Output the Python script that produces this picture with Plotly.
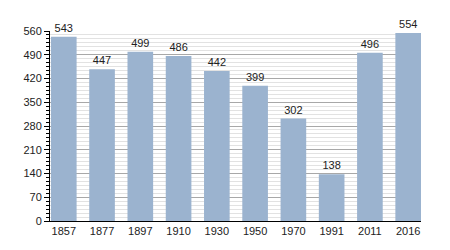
import plotly.graph_objects as go

years = ["1857", "1877", "1897", "1910", "1930", "1950", "1970", "1991", "2011", "2016"]
population = [543, 447, 499, 486, 442, 399, 302, 138, 496, 554]
y_ticks = [0, 70, 140, 210, 280, 350, 420, 490, 560]

fig = go.Figure(go.Bar(
    x=years,
    y=population,
    width=0.67,
    marker=dict(color="#9bb3cf", line=dict(width=0)),
    text=[str(v) for v in population],
    textposition="outside",
    textfont=dict(family="Liberation Sans, Arial, sans-serif", size=11, color="#222"),
    cliponaxis=False,
))

fig.update_layout(
    width=450, height=250,
    margin=dict(l=50, r=29, t=31, b=29),
    paper_bgcolor="white", plot_bgcolor="white",
    showlegend=False,
    font=dict(family="Liberation Sans, Arial, sans-serif", size=11, color="#222"),
    bargap=0.33,
)
fig.update_xaxes(
    type="category",
    range=[-0.36, 9.335],
    showline=True, linecolor="black", linewidth=1,
    ticks="", showgrid=False,
    tickfont=dict(size=11, color="#222"),
)
fig.update_yaxes(
    range=[0, 560],
    tickvals=y_ticks,
    ticktext=[str(v) for v in y_ticks],
    showline=True, linecolor="black", linewidth=1,
    ticks="outside", ticklen=5, tickcolor="black",
    showgrid=True, gridcolor="#a8a8a8", gridwidth=1,
    zeroline=False,
    tickfont=dict(size=11, color="#222"),
    minor=dict(dtick=70 / 6, tick0=0, ticks="outside", ticklen=3, tickcolor="black",
               showgrid=True, gridcolor="#e2e2e2", gridwidth=1),
)

fig.write_html("out.html")
